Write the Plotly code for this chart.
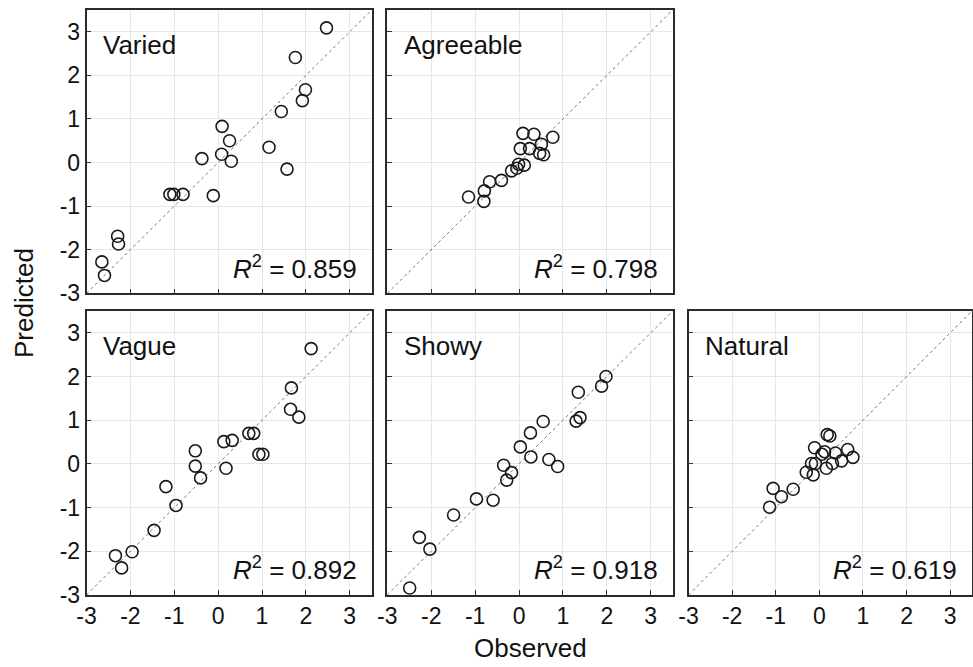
import plotly.graph_objects as go

# ---------------- data ----------------
panel_names = ["Varied", "Agreeable", "Vague", "Showy", "Natural"]
r2_values = ["0.859", "0.798", "0.892", "0.918", "0.619"]

varied_obs = [2.47, 1.76, 1.99, 1.92, 1.44, 0.09, 0.26, 0.08, 0.30, -0.37, 1.16, 1.57,
              -1.10, -1.01, -0.80, -0.11, -2.29, -2.27, -2.65, -2.59]
varied_pred = [3.09, 2.41, 1.67, 1.42, 1.17, 0.83, 0.50, 0.19, 0.03, 0.09, 0.35, -0.15,
               -0.73, -0.73, -0.73, -0.76, -1.69, -1.87, -2.28, -2.59]

agree_obs = [0.09, 0.34, 0.77, 0.51, 0.03, 0.24, 0.47, 0.56, 0.12, -0.01, -0.05, -0.17,
             -0.40, -0.67, -0.79, -1.15, -0.80]
agree_pred = [0.67, 0.65, 0.58, 0.42, 0.32, 0.32, 0.21, 0.18, -0.06, -0.04, -0.13, -0.19,
              -0.41, -0.44, -0.65, -0.79, -0.89]

vague_obs = [2.12, 1.67, 1.65, 1.84, 0.70, 0.81, 0.13, 0.32, 0.93, 1.02, -0.52, -0.52,
             -0.40, 0.18, -1.19, -0.96, -1.46, -1.96, -2.34, -2.20]
vague_pred = [2.64, 1.74, 1.25, 1.07, 0.70, 0.70, 0.51, 0.54, 0.22, 0.22, 0.30, -0.05,
              -0.32, -0.10, -0.52, -0.95, -1.52, -2.01, -2.10, -2.38]

showy_obs = [1.98, 1.88, 1.35, 1.39, 1.30, 0.55, 0.26, 0.03, 0.27, 0.68, 0.88, -0.35,
             -0.17, -0.28, -0.97, -0.59, -1.49, -2.27, -2.03, -2.49]
showy_pred = [2.00, 1.78, 1.64, 1.06, 0.98, 0.97, 0.71, 0.39, 0.16, 0.10, -0.06, -0.03,
              -0.20, -0.37, -0.80, -0.83, -1.17, -1.68, -1.95, -2.84]

natural_obs = [0.18, 0.24, -0.11, 0.12, 0.06, 0.37, 0.65, 0.77, 0.51, 0.30, 0.16, -0.09,
               -0.18, -0.14, -0.30, -0.60, -1.06, -0.87, -1.14]
natural_pred = [0.67, 0.64, 0.37, 0.28, 0.22, 0.25, 0.33, 0.15, 0.07, 0.01, -0.10, 0.01,
                0.01, -0.25, -0.19, -0.58, -0.56, -0.75, -0.99]

tick_vals = [-3, -2, -1, 0, 1, 2, 3]
tick_text = ["-3", "-2", "-1", "0", "1", "2", "3"]
axis_min, axis_max = -3, 3.5

observed = [varied_obs, agree_obs, vague_obs, showy_obs, natural_obs]
predicted = [varied_pred, agree_pred, vague_pred, showy_pred, natural_pred]

# ---------------- layout geometry ----------------
W, H = 973, 667
col_px = [(86.5, 371.7), (387.3, 672.7), (688.5, 972.0)]
row_px = [(10.0, 293.3), (311.0, 595.0)]
# panel -> (col, row, show_x_labels, show_y_labels)
panels = [(0, 0, False, True), (1, 0, False, False),
          (0, 1, True, True), (1, 1, True, False), (2, 1, True, False)]

FONT = "Liberation Sans, Arial, sans-serif"
fig = go.Figure()
layout = {}

for i, (c, r, sx, sy) in enumerate(panels):
    n = "" if i == 0 else str(i + 1)
    xd = [col_px[c][0] / W, col_px[c][1] / W]
    yd = [1 - row_px[r][1] / H, 1 - row_px[r][0] / H]
    common = dict(range=[axis_min, axis_max], tickvals=tick_vals, ticktext=tick_text,
                  showgrid=True, gridcolor="#e6e6e6", gridwidth=1, zeroline=False,
                  showline=True, linecolor="#2b2b2b", linewidth=1.6, mirror=True,
                  ticks="inside", ticklen=5, tickcolor="#333333", tickwidth=1,
                  tickfont=dict(family=FONT, size=23, color="#111111"),
                  automargin=False, fixedrange=True)
    layout["xaxis" + n] = dict(common, domain=xd, anchor="y" + n, showticklabels=sx)
    layout["yaxis" + n] = dict(common, domain=yd, anchor="x" + n, showticklabels=sy)

    fig.add_trace(go.Scatter(x=[axis_min, axis_max], y=[axis_min, axis_max], mode="lines",
                             line=dict(color="#777777", width=1, dash="dot"),
                             xaxis="x" + n, yaxis="y" + n, showlegend=False,
                             hoverinfo="skip"))
    fig.add_trace(go.Scatter(x=observed[i], y=predicted[i], mode="markers",
                             marker=dict(symbol="circle-open", size=12, color="#1a1a1a",
                                         line=dict(width=1.6, color="#1a1a1a")),
                             xaxis="x" + n, yaxis="y" + n, showlegend=False))

annotations = []
for i, (c, r, sx, sy) in enumerate(panels):
    n = "" if i == 0 else str(i + 1)
    annotations.append(dict(text=panel_names[i], x=-2.66, y=2.7, xref="x" + n, yref="y" + n,
                            xanchor="left", yanchor="middle", showarrow=False,
                            font=dict(family=FONT, size=26, color="#111111")))
    annotations.append(dict(text="<i>R</i><sup>2</sup> = " + r2_values[i], x=3.2, y=-2.4,
                            xref="x" + n, yref="y" + n, xanchor="right", yanchor="middle",
                            showarrow=False,
                            font=dict(family=FONT, size=26, color="#111111")))

annotations.append(dict(text="Observed", x=530 / W, y=1 - 648 / H, xref="paper", yref="paper",
                        xanchor="center", yanchor="middle", showarrow=False,
                        font=dict(family=FONT, size=26, color="#111111")))
annotations.append(dict(text="Predicted", x=24 / W, y=1 - 303 / H, xref="paper", yref="paper",
                        xanchor="center", yanchor="middle", showarrow=False, textangle=-90,
                        font=dict(family=FONT, size=26, color="#111111")))

fig.update_layout(**layout)
fig.update_layout(width=W, height=H, margin=dict(l=0, r=0, t=0, b=0),
                  paper_bgcolor="white", plot_bgcolor="white",
                  annotations=annotations, showlegend=False)

fig.write_html("out.html", config={"displayModeBar": False},
               post_script="document.body.style.margin='0';document.body.style.overflow='hidden';")
